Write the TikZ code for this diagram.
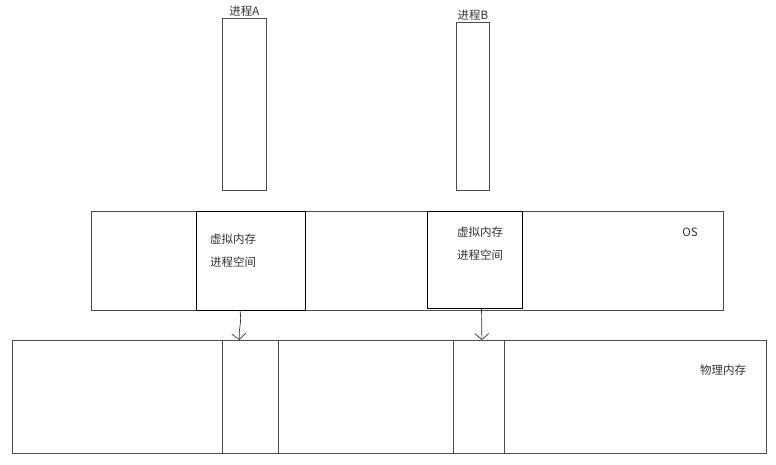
\documentclass[tikz,border=0pt]{standalone}
\usepackage{fontspec}
\newfontfamily\cjk{Noto Sans CJK SC}
\usetikzlibrary{positioning,arrows.meta}
\begin{document}
\begin{tikzpicture}[x=1pt,y=-1pt]
\tikzset{
  box_s/.style = {draw=black!70, line width=0.8pt, inner sep=0pt, anchor=north west},
  vbox_s/.style = {draw=black, line width=1.1pt, inner sep=0pt, anchor=north west},
  txt_s/.style = {font=\cjk\fontsize{11.5}{13}\selectfont, text=black!80, inner sep=1pt},
  arr_s/.style = {draw=black!80, line width=0.7pt, -{Straight Barb[length=6pt,width=14pt]}}
}
\useasboundingbox (0,0) rectangle (776,465);

% processes
\node [box_s, minimum width=44pt, minimum height=172pt] (pa) at (222,18) {};
\node [box_s, minimum width=33pt, minimum height=168pt] (pb) at (456,22) {};
\node [txt_s, above=0pt of pa] (pa_l) {进程A};
\node [txt_s, above=0pt of pb] (pb_l) {进程B};

% OS
\node [box_s, minimum width=632pt, minimum height=99pt] (os) at (91,211) {};
\node [txt_s] (os_l) at (690,232) {OS};
\node [vbox_s, minimum width=109pt, minimum height=99pt] (va) at (196,211) {};
\node [vbox_s, minimum width=95pt, minimum height=97pt] (vb) at (427,211) {};
\node [txt_s] (va_1) at (233,239) {虚拟内存};
\node [txt_s] (va_2) at (233,262) {进程空间};
\node [txt_s] (vb_1) at (480,232) {虚拟内存};
\node [txt_s] (vb_2) at (480,255) {进程空间};

% physical memory
\node [box_s, minimum width=754pt, minimum height=113pt] (pm) at (12,340) {};
\node [box_s, minimum width=56pt, minimum height=113pt] (ma) at (222,340) {};
\node [box_s, minimum width=51pt, minimum height=113pt] (mb) at (453,340) {};
\node [txt_s] (pm_l) at (723,370) {物理内存};

\draw [arr_s] ([xshift=-11pt]va.south) to[out=-80,in=95] ([xshift=-11pt]ma.north);
\draw [arr_s] ([xshift=6.5pt]vb.south) -- ([xshift=3pt]mb.north);

\end{tikzpicture}
\end{document}
